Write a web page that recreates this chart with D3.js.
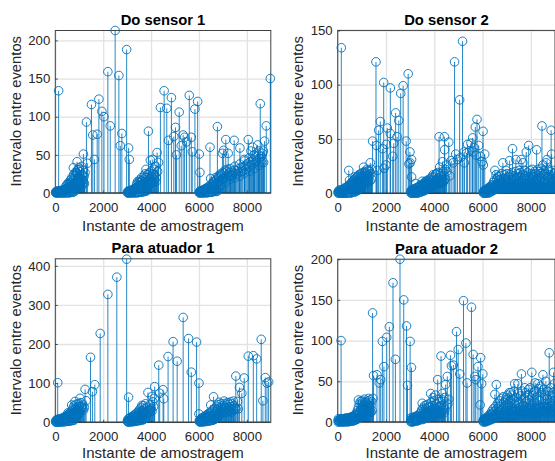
<!DOCTYPE html>
<html><head><meta charset="utf-8">
<script src="https://cdn.jsdelivr.net/npm/d3@7"></script>
<style>html,body{margin:0;padding:0;background:#fff;overflow:hidden}svg{display:block}text{font-family:"Liberation Sans",Arial,sans-serif}</style>
</head><body><svg id="c" width="555" height="461"></svg>
<script>
const titles = ["Do sensor 1","Do sensor 2","Para atuador 1","Para atuador 2"];
const xLabel = "Instante de amostragem";
const yLabel = "Intervalo entre eventos";
const xTicks = [0,2000,4000,6000,8000];
const yTicks1 = [0,50,100,150,200];
const yTicks2 = [0,50,100,150];
const yTicks3 = [0,100,200,300,400];
const yTicks4 = [0,50,100,150,200];
const yMax = [213,150,418,200];

const sensor1 = [[140,134],[2500,213],[2980,188],[2195,159],[2655,154],[1510,116],[1820,123],[1945,107],[2030,100],[1300,93],[2295,88],[1565,76],[1750,77],[2780,78],[2715,62],[3060,59],[3090,44],[1635,44],[1175,51],[1340,39],[910,41],[755,33],
[3890,81],[4545,134],[4390,112],[4655,111],[4850,125],[5175,106],[5020,86],[4725,69],[4950,74],[5060,50],[5340,76],[5400,73],[5480,67],[5260,62],[5680,73],[5720,54],[5595,128],[5830,110],[5945,120],[6015,51],[6040,27],[4250,53],[3970,43],[4070,44],[3790,31],[4310,40],
[6460,60],[6770,87],[7120,70],[7470,69],[7710,59],[8060,70],[7030,56],[6980,52],[7220,52],[8560,117],[8810,88],[8980,150],[8740,68],[8450,63],[8240,60],[8170,55],[8690,55],[7890,44],[6490,19],[7190,31],
[15,1],[35,2],[55,1],[75,2],[95,1],[115,3],[135,1],[155,2],[175,1],[195,3],[215,2],[235,1],[255,3],[275,2],[295,4],[315,2],[335,3],[355,2],[375,4],[395,3],[415,5],[435,3],[455,4],[475,6],[495,4],[515,7],[535,5],[555,8],[575,6],[595,9],[615,7],[635,11],[655,8],[675,13],[695,9],[715,16],[735,11],[775,19],[795,13],[825,23],[845,15],[875,27],[895,18],[935,30],[955,20],[985,33],[1005,23],[1035,28],[1065,19],[1095,35],[1125,24],[1155,30],[1205,22],[1240,27],
[3015,1],[3035,2],[3055,1],[3075,3],[3095,1],[3115,2],[3135,3],[3155,1],[3175,2],[3195,4],[3215,2],[3235,3],[3255,5],[3275,3],[3295,4],[3315,6],[3335,4],[3355,5],[3375,7],[3395,5],[3415,8],[3435,6],[3455,9],[3475,7],[3495,10],[3515,8],[3535,11],[3555,9],[3575,14],[3595,10],[3615,16],[3640,12],[3665,18],[3690,13],[3715,15],[3745,12],[3775,20],[3815,15],[3845,24],[3875,17],[3915,26],[3945,19],[4005,29],[4035,22],[4095,25],[4125,31],[4155,23],[4190,35],[4225,20],[4275,28],
[6010,1],[6030,2],[6050,1],[6070,3],[6090,2],[6110,1],[6130,3],[6150,2],[6170,4],[6190,2],[6210,3],[6230,5],[6250,3],[6270,4],[6290,6],[6310,4],[6330,5],[6350,7],[6370,5],[6395,8],[6420,6],[6445,9],[6475,7],[6505,11],[6535,8],[6565,12],[6595,9],[6625,14],[6655,10],[6685,16],[6715,12],[6745,18],[6785,14],[6815,20],[6845,15],[6885,22],[6915,17],[6945,24],[7005,19],[7060,26],[7090,20],[7150,28],[7250,22],[7285,27],[7320,24],[7360,29],[7400,23],[7440,27],[7510,30],[7550,25],[7590,29],[7635,26],[7670,32],[7750,28],[7790,34],[7830,29],[7925,35],[7965,31],[8010,38],[8100,34],[8140,41],[8200,37],[8280,44],[8320,39],[8370,48],[8410,42],[8490,50],[8530,45],[8600,48],[8650,52]];
const sensor1Low = [[25,0],[65,0],[105,1],[145,0],[185,1],[225,0],[265,1],[305,0],[345,1],[385,0],[425,1],[465,0],[505,1],[545,1],[585,0],[625,2],[665,1],[705,2],[745,1],[785,2],[825,3],
[445,9],[485,11],[525,12],[565,14],[605,13],[645,17],[685,20],[725,7],[765,24],[805,8],[835,27],[865,10],[905,26],[945,14],[975,10],[1015,31],[1045,12],[1075,15],[1110,11],[1145,17],[1185,14],[1220,12],
[3025,0],[3065,0],[3105,1],[3145,0],[3185,1],[3225,0],[3265,1],[3305,0],[3345,1],[3385,1],[3425,0],[3465,1],[3505,2],[3545,1],[3585,2],[3625,1],[3665,2],[3705,3],[3745,2],[3785,3],[3825,3],
[3400,12],[3440,15],[3480,14],[3520,17],[3560,15],[3600,20],[3650,8],[3700,22],[3750,25],[3790,9],[3850,11],[3900,13],[3960,12],[4020,15],[4080,14],[4140,17],[4210,15],
[6020,0],[6060,0],[6100,1],[6140,0],[6180,1],[6220,0],[6260,1],[6300,1],[6340,0],[6380,1],[6420,2],[6460,1],[6500,2],[6540,1],[6580,2],[6620,3],[6660,2],[6700,3],[6740,2],[6780,3],
[6600,15],[6700,20],[6800,22],[6900,25],[7000,27],[7100,30],[7300,32],[7500,35],[7700,38],[7900,42],[8100,46],[8300,50],[8500,55],[8620,40],
[6720,6],[6900,10],[7100,14],[7300,18],[7500,20],[7700,22],[7900,26],[8100,28],[8300,32],[8500,36],[8700,40]];

const sensor2 = [[150,134],[1585,121],[1905,102],[2180,97],[2610,92],[2710,99],[2920,110],[2400,74],[2530,67],[1765,66],[1695,58],[2055,60],[2180,55],[1445,48],[1610,44],[1860,41],[2015,45],[2320,46],[2460,52],[2280,34],[2000,26],[1920,23],[1640,21],[1350,28],[2835,48],[2990,38],[3000,28],[3060,31],[2950,27],[3060,15],[460,21],[490,12],[1070,24],[1210,22],[720,15],
[4840,121],[5170,140],[5050,86],[5770,68],[5700,61],[6020,57],[4200,52],[4420,52],[4600,47],[4430,40],[4340,29],[4225,24],[3950,17],[4890,36],[5380,45],[5240,38],[5520,46],[5590,51],[5840,44],[5910,34],[6090,36],[5980,29],[6030,26],[5240,28],[4960,31],[5340,37],[5590,38],[3500,11],[3220,9],[4080,18],[4500,26],[4700,30],[4780,28],[5100,33],[5460,39],[5650,42],[5740,35],[4520,20],[4640,16],
[6510,21],[6560,17],[6840,28],[7120,30],[7240,41],[7380,31],[7670,28],[7600,31],[7910,44],[7810,38],[8240,40],[8460,62],[8840,58],[8860,36],[8670,31],[8500,26],[8640,28],[6970,21],
[15,1],[35,2],[55,1],[75,3],[95,1],[115,2],[135,1],[155,3],[175,2],[195,1],[215,3],[235,2],[255,4],[275,2],[295,5],[315,3],[335,2],[355,5],[375,3],[395,6],[415,4],[435,7],[455,4],[475,6],[505,8],[525,5],[545,9],[565,6],[585,10],[605,7],[625,11],[645,8],[665,12],[685,9],[705,13],[735,10],[755,14],[775,11],[795,15],[815,12],[835,16],[855,11],[875,17],[895,13],[915,15],[935,12],[955,18],[975,14],[995,16],[1015,13],[1035,19],[1055,15],[1095,18],[1115,14],[1135,20],[1155,16],[1175,19],[1235,17],[1265,21],[1295,16],[1325,20],[1375,18],[1405,22],
[3030,2],[3050,1],[3070,3],[3090,1],[3110,2],[3130,4],[3150,2],[3170,3],[3190,1],[3210,4],[3240,2],[3260,5],[3280,3],[3300,2],[3320,5],[3340,3],[3360,6],[3380,4],[3400,7],[3420,4],[3440,6],[3460,8],[3480,5],[3520,8],[3540,6],[3560,9],[3580,7],[3600,10],[3620,8],[3640,11],[3660,8],[3680,10],[3700,7],[3720,12],[3740,9],[3760,11],[3780,8],[3800,13],[3820,10],[3840,12],[3860,9],[3880,14],[3900,11],[3925,15],[3975,12],[4000,15],[4030,11],[4060,17],[4110,13],[4140,19],[4170,14],[4250,18],[4290,15],[4370,20],[4400,16],[4460,22],
[6030,1],[6050,2],[6070,1],[6090,3],[6110,2],[6130,1],[6150,3],[6170,2],[6190,4],[6210,2],[6230,3],[6250,5],[6270,3],[6290,4],[6310,6],[6330,3],[6350,5],[6370,7],[6390,4],[6410,8],[6430,5],[6450,10],[6470,6],[6490,12],[6530,7],[6590,13],[6610,8],[6630,15],[6650,6],[6670,12],[6690,9],[6710,16],[6730,7],[6750,13],[6770,10],[6790,18],[6810,8],[6870,14],[6890,11],[6910,17],[6930,6],[6950,13],[6990,9],[7010,18],[7030,12],[7050,7],[7070,15],[7090,10],[7150,17],[7170,8],[7190,13],[7210,19],[7270,11],[7290,16],[7310,7],[7330,14],[7350,20],[7410,10],[7430,15],[7450,8],[7470,18],[7490,12],[7510,21],[7530,9],[7550,15],[7570,19],[7630,11],[7650,17],[7700,8],[7720,14],[7740,21],[7760,10],[7780,16],[7840,13],[7860,19],[7880,9],[7940,15],[7960,21],[7980,11],[8000,18],[8020,8],[8040,14],[8060,22],[8080,12],[8100,17],[8120,9],[8140,15],[8160,20],[8180,11],[8200,18],[8270,13],[8290,22],[8310,9],[8330,16],[8350,20],[8370,11],[8390,18],[8410,14],[8430,23],[8490,10],[8530,17],[8550,21],[8570,12],[8590,18],[8610,9],[8700,15],[8720,22],[8740,11],[8760,17],[8780,13],[8800,20],[8820,9],[8880,16],[8900,21],[8920,11],[8940,18],[8960,13],[8980,19]];
const sensor2Low = [[25,0],[65,0],[105,1],[145,0],[185,0],[225,1],[265,0],[305,1],[345,0],[385,1],[425,0],[465,1],[505,1],[545,0],[585,1],[625,1],[665,2],[705,1],[745,2],[785,2],[825,3],[865,3],[905,4],[945,5],[985,6],
[500,4],[560,7],[620,5],[680,7],[740,6],[800,8],[860,7],[920,9],[980,8],[1040,10],[1100,9],[1160,11],[1220,10],[1280,12],[1340,11],[1400,13],
[3040,0],[3080,0],[3120,1],[3160,0],[3200,1],[3240,0],[3280,1],[3320,0],[3360,1],[3400,1],[3440,1],[3480,2],[3520,2],[3560,2],[3600,3],[3640,3],[3680,4],[3720,4],[3760,5],[3800,5],[3840,6],[3880,6],[3920,7],[3960,7],[4000,8],[4040,8],[4080,9],[4120,9],[4160,10],[4200,10],[4240,11],[4280,9],[4320,12],[4360,10],[4400,11],[4440,13],
[6040,0],[6080,0],[6120,1],[6160,0],[6200,1],[6240,0],[6280,1],[6320,1],[6360,2],[6400,2],[6440,3],[6480,3],[6520,4],[6560,4],[6600,5],[6640,4],[6680,5],[6720,4],[6760,5],[6800,4],[6840,6],[6880,5],[6920,4],[6960,6],[7000,5],[7040,4],[7080,6],[7120,5],[7160,4],[7200,6],[7240,5],[7280,4],[7320,6],[7360,5],[7400,4],[7440,6],[7480,5],[7520,4],[7560,6],[7600,5],[7640,4],[7680,6],[7720,5],[7760,4],[7800,6],[7840,5],[7880,4],[7920,6],[7960,5],[8000,4],[8040,6],[8080,5],[8120,4],[8160,6],[8200,5],[8240,4],[8280,6],[8320,5],[8360,4],[8400,6],[8440,5],[8480,4],[8520,6],[8560,5],[8600,4],[8640,6],[8680,5],[8720,4],[8760,6],[8800,5],[8840,4],[8880,6],[8920,5],[8960,4]];

const actuator1 = [[100,101],[2980,417],[2570,371],[2195,327],[1875,227],[1470,166],[1650,96],[1245,84],[1550,78],[1285,55],[3060,64],[1035,61],[1105,40],[825,53],[685,44],
[5340,268],[4920,206],[5565,214],[5900,205],[4710,168],[5090,156],[5680,128],[6000,100],[4320,146],[4150,91],[4500,83],[4530,60],[4360,74],[3870,76],[4040,66],[4140,61],[6000,21],[3620,43],[3970,27],
[6610,65],[7540,118],[7690,89],[7790,74],[7890,113],[8060,169],[8270,170],[8410,162],[8600,212],[8670,55],[8770,114],[8840,100],[8910,103],[7610,53],[7640,34],[7050,54],[6840,51],[6490,44],
[15,2],[35,5],[55,2],[75,7],[95,3],[120,6],[140,2],[160,8],[180,4],[200,9],[220,3],[240,7],[260,5],[280,10],[300,4],[320,8],[340,12],[360,6],[380,10],[400,14],[420,7],[440,12],[460,16],[480,9],[500,13],[520,19],[540,11],[560,15],[580,22],[600,13],[620,18],[640,26],[660,16],[705,30],[725,20],[745,36],[765,23],[785,42],[805,27],[845,35],[865,24],[885,46],[905,30],[925,38],[945,26],[965,48],[985,33],[1005,41],[1055,29],[1075,50],[1125,36],[1150,44],[1180,31],[1210,38],
[3010,3],[3030,7],[3050,2],[3070,9],[3090,4],[3110,11],[3130,5],[3150,13],[3170,6],[3190,10],[3210,4],[3230,15],[3250,7],[3270,12],[3290,18],[3310,8],[3330,14],[3350,21],[3370,10],[3390,17],[3410,24],[3430,12],[3450,20],[3470,28],[3490,14],[3510,23],[3530,33],[3550,17],[3570,27],[3590,38],[3610,20],[3650,31],[3680,42],[3710,24],[3740,35],[3770,47],[3800,28],[3830,38],[3905,31],[3935,44],[4005,35],[4070,52],[4105,40],
[6015,3],[6035,6],[6055,2],[6075,8],[6095,4],[6115,10],[6135,5],[6155,12],[6175,6],[6195,9],[6215,14],[6235,7],[6255,11],[6275,16],[6295,9],[6315,13],[6335,19],[6355,11],[6375,16],[6395,22],[6415,13],[6435,18],[6455,25],[6475,15],[6520,28],[6550,18],[6580,32],[6640,22],[6670,36],[6700,26],[6730,41],[6760,28],[6790,34],[6820,45],[6870,30],[6900,38],[6930,47],[6960,33],[6990,42],[7020,28],[7080,48],[7110,36],[7140,44],[7170,30],[7200,50],[7230,38],[7260,46],[7290,33],[7320,52],[7350,40],[7380,47],[7410,34],[7440,54],[7470,42],[7500,36]];
const actuator1Low = [[25,0],[65,1],[105,0],[145,2],[185,1],[225,0],[265,2],[305,1],[345,2],[385,1],[425,2],[465,3],[505,2],[545,3],[585,4],[625,3],[665,5],[705,4],[745,6],[785,5],
[530,24],[590,18],[650,21],[700,14],[760,18],[820,20],[880,16],[940,18],[1000,22],
[3025,1],[3065,0],[3105,2],[3145,1],[3185,2],[3225,1],[3265,3],[3305,2],[3345,3],[3385,4],[3425,3],[3465,5],[3505,4],[3545,6],[3585,5],[3625,7],[3665,6],[3705,8],[3745,10],[3785,12],
[3640,26],[3700,20],[3760,25],[3820,22],[3880,26],[3950,30],[4040,28],
[6025,1],[6065,0],[6105,2],[6145,1],[6185,2],[6225,1],[6265,3],[6305,2],[6345,3],[6385,4],[6425,3],[6465,5],[6505,4],[6545,6],[6585,5],[6625,7],[6665,8],[6705,10],[6745,12],[6785,14],[6825,16],
[6850,26],[6950,24],[7050,26],[7150,24],[7250,28],[7350,26],[7450,30],[7550,34]];

const actuator2 = [[140,100],[1445,134],[2140,117],[2290,171],[2580,200],[2735,150],[2030,104],[1850,99],[2850,118],[3000,99],[3055,67],[2890,45],[2390,77],[1915,68],[1485,57],[1625,58],[1720,48],[1780,52],[1460,29],[1280,29],[860,27],[1000,26],[1100,28],[1180,24],
[5210,149],[5540,141],[4920,111],[5310,97],[4990,89],[4280,81],[4670,82],[5610,83],[5920,79],[5810,68],[6010,59],[5960,47],[5900,21],[4140,52],[4540,56],[4470,46],[4790,70],[4710,69],[5055,59],[5360,48],[5680,56],[5720,52],[3850,35],[3500,23],[4330,35],[4430,30],[4560,22],[4600,28],[4050,33],[3950,30],
[6570,46],[6510,34],[7110,36],[7610,59],[8040,61],[7330,47],[7460,47],[8500,58],[8760,85],[8940,61],[7900,40],[8290,47],[8180,48],[8400,44],[8620,50],[8820,42],[8980,47],[7750,42],[7220,33],[6860,31],[6980,30],[7050,28],[8110,36],[8700,38],
[15,2],[35,4],[55,1],[75,3],[95,2],[115,4],[135,1],[155,3],[175,2],[195,4],[215,1],[235,3],[255,2],[275,4],[295,2],[315,3],[335,5],[355,2],[375,4],[395,3],[415,5],[435,2],[455,4],[475,3],[495,5],[515,3],[535,6],[555,4],[575,3],[595,6],[615,4],[635,7],[655,4],[675,6],[695,8],[715,5],[735,9],[755,6],[775,11],[795,8],[815,14],[835,9],[855,18],[875,11],[895,22],[915,13],[935,25],[955,15],[975,20],[1020,17],[1040,24],[1060,14],[1080,21],[1120,18],[1140,25],[1160,16],[1200,22],[1220,17],[1240,26],[1260,19],[1300,23],[1320,18],[1340,27],[1380,20],[1410,25],
[3020,2],[3040,5],[3060,1],[3080,4],[3100,2],[3120,6],[3140,3],[3160,5],[3180,2],[3200,6],[3220,3],[3240,7],[3260,4],[3280,6],[3300,3],[3320,8],[3340,4],[3360,7],[3380,5],[3400,10],[3420,6],[3440,12],[3460,7],[3480,15],[3520,9],[3540,17],[3560,8],[3580,13],[3600,20],[3620,10],[3640,16],[3660,11],[3680,21],[3700,12],[3720,18],[3740,10],[3760,22],[3780,14],[3800,19],[3820,11],[3880,24],[3900,15],[3920,20],[3980,13],[4000,26],[4020,17],[4080,22],[4100,14],[4170,28],[4200,19],[4230,25],[4300,20],[4360,27],[4390,18],
[6020,1],[6040,3],[6060,2],[6080,4],[6100,1],[6120,3],[6140,5],[6160,2],[6180,4],[6200,6],[6220,3],[6240,5],[6260,8],[6280,4],[6300,7],[6320,10],[6340,5],[6360,9],[6380,13],[6400,6],[6420,11],[6440,16],[6460,8],[6480,13],[6530,19],[6550,10],[6590,16],[6620,23],[6650,12],[6680,19],[6710,26],[6740,14],[6770,22],[6800,29],[6830,16],[6890,24],[6920,13],[6950,27],[7010,18],[7030,33],[7070,21],[7090,14],[7140,26],[7170,36],[7190,17],[7250,28],[7280,15],[7300,38],[7360,22],[7390,30],[7420,16],[7490,35],[7520,24],[7550,18],[7580,32],[7640,38],[7670,20],[7700,29],[7730,15],[7780,36],[7810,25],[7840,18],[7870,33],[7940,27],[7970,42],[8000,20],[8070,32],[8140,24],[8170,38],[8210,17],[8240,30],[8320,41],[8350,26],[8380,19],[8430,36],[8460,28],[8530,40],[8560,22],[8590,33],[8650,18],[8680,29],[8730,37],[8790,24],[8850,32],[8880,20],[8910,36],[8960,26]];
const actuator2Low = [[25,0],[65,0],[105,1],[145,0],[185,1],[225,0],[265,1],[305,0],[345,1],[385,1],[425,0],[465,1],[505,1],[545,1],[585,2],[625,1],[665,2],[705,2],[745,3],[785,3],[825,4],[865,5],[905,6],[945,7],[985,8],[1025,9],[1065,8],[1105,10],[1145,9],[1185,11],[1225,10],[1265,12],[1305,11],[1345,13],[1385,12],[1425,14],
[3035,0],[3075,1],[3115,0],[3155,1],[3195,1],[3235,2],[3275,1],[3315,2],[3355,2],[3395,3],[3435,3],[3475,4],[3515,3],[3555,5],[3595,4],[3635,6],[3675,5],[3715,7],[3755,6],[3795,8],[3835,7],[3875,9],[3915,8],[3955,10],[3995,9],[4035,11],[4075,10],[4115,12],[4155,9],[4195,11],[4235,13],[4275,10],[4315,12],[4355,14],[4395,11],[4435,15],
[6035,0],[6075,1],[6115,0],[6155,1],[6195,1],[6235,2],[6275,2],[6315,3],[6355,3],[6395,4],[6435,4],[6475,5],[6515,6],[6555,5],[6595,7],[6635,6],[6675,8],[6715,7],[6755,9],[6795,8],[6835,10],[6875,9],[6915,7],[6955,11],[6995,10],[7035,8],[7075,12],[7115,9],[7155,11],[7195,8],[7235,13],[7275,9],[7315,12],[7355,8],[7395,14],[7435,10],[7475,12],[7515,9],[7555,15],[7595,10],[7635,13],[7675,9],[7715,15],[7755,11],[7795,13],[7835,9],[7875,16],[7915,11],[7955,14],[7995,10],[8035,17],[8075,12],[8115,15],[8155,10],[8195,18],[8235,12],[8275,15],[8315,11],[8355,18],[8395,13],[8435,16],[8475,11],[8515,19],[8555,13],[8595,16],[8635,11],[8675,18],[8715,14],[8755,16],[8795,11],[8835,19],[8875,13],[8915,16],[8955,12],[8995,18]];

const seriesList = [sensor1.concat(sensor1Low),sensor2.concat(sensor2Low),actuator1.concat(actuator1Low),actuator2.concat(actuator2Low)];
const yTickList = [yTicks1,yTicks2,yTicks3,yTicks4];
const boxes = [
 {l:55.3,r:270.8,t:30.5,b:193},
 {l:337.7,r:555,t:30.4,b:193.2},
 {l:55.3,r:270.8,t:258.8,b:422.2},
 {l:337.7,r:555,t:259.2,b:422}
];
const blue="#0072BD", ink="#262626";
const svg=d3.select("#c");
boxes.forEach((bx,i)=>{
  const x=d3.scaleLinear().domain([0,9000]).range([bx.l,bx.r]);
  const y=d3.scaleLinear().domain([0,yMax[i]]).range([bx.b,bx.t]);
  const g=svg.append("g");
  const W=bx.r-bx.l,H=bx.b-bx.t;
  g.append("g").attr("transform",`translate(0,${bx.b})`)
   .call(d3.axisBottom(x).tickValues(xTicks).tickSize(-H).tickFormat(""))
   .call(s=>{s.select(".domain").remove();s.selectAll("line").attr("stroke","#e2e2e2").attr("stroke-width",1.3);});
  g.append("g").attr("transform",`translate(${bx.l},0)`)
   .call(d3.axisLeft(y).tickValues(yTickList[i]).tickSize(-W).tickFormat(""))
   .call(s=>{s.select(".domain").remove();s.selectAll("line").attr("stroke","#e2e2e2").attr("stroke-width",1.3);});
  g.append("rect").attr("x",bx.l).attr("y",bx.t).attr("width",W).attr("height",H)
   .attr("fill","none").attr("stroke","#404040").attr("stroke-width",1);
  g.append("g").attr("transform",`translate(0,${bx.b})`)
   .call(d3.axisBottom(x).tickValues(xTicks).tickSize(-2.5).tickPadding(9.5).tickFormat(d3.format("d")))
   .call(s=>{s.select(".domain").remove();s.selectAll("line").attr("stroke",ink).attr("stroke-width",0.8);
     s.selectAll("text").attr("fill",ink).attr("font-size",13.2).attr("dy","0.71em");});
  g.append("g").attr("transform",`translate(${bx.l},0)`)
   .call(d3.axisLeft(y).tickValues(yTickList[i]).tickSize(-2.5).tickPadding(5))
   .call(s=>{s.select(".domain").remove();s.selectAll("line").attr("stroke",ink).attr("stroke-width",0.8);
     s.selectAll("text").attr("fill",ink).attr("font-size",13.2);});
  const data=seriesList[i];
  g.append("g").selectAll("line").data(data).join("line")
   .attr("x1",d=>x(d[0])).attr("x2",d=>x(d[0])).attr("y1",y(0)).attr("y2",d=>y(d[1]))
   .attr("stroke",blue).attr("stroke-width",0.85);
  g.append("line").attr("x1",bx.l).attr("x2",bx.r).attr("y1",y(0)).attr("y2",y(0)).attr("stroke",ink).attr("stroke-width",0.9);
  g.append("g").selectAll("circle").data(data).join("circle")
   .attr("cx",d=>x(d[0])).attr("cy",d=>y(d[1])).attr("r",4.3)
   .attr("fill","none").attr("stroke",blue).attr("stroke-width",0.9);
  const cx=i%2?446.5:163;
  g.append("text").attr("x",cx).attr("y",bx.t-5.7).attr("text-anchor","middle")
   .attr("font-size",14.8).attr("font-weight","bold").attr("fill","#000").text(titles[i]);
  g.append("text").attr("x",cx).attr("y",bx.b+(i>=2?35.8:37.6)).attr("text-anchor","middle")
   .attr("font-size",15).attr("fill",ink).text(xLabel);
  const lx=i%2?303:21;
  g.append("text").attr("transform",`translate(${lx},${(bx.t+bx.b)/2-0.5}) rotate(-90)`).attr("text-anchor","middle")
   .attr("font-size",14.8).attr("fill",ink).text(yLabel);
});
</script></body></html>
